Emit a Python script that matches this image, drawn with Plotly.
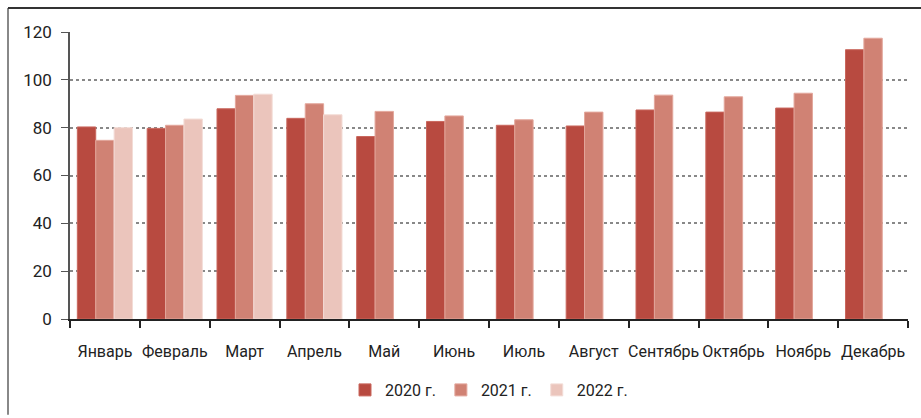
import plotly.graph_objects as go

months = ["Январь", "Февраль", "Март", "Апрель", "Май", "Июнь", "Июль",
          "Август", "Сентябрь", "Октябрь", "Ноябрь", "Декабрь"]
v2020 = [80.3, 79.7, 87.9, 83.9, 76.3, 82.6, 81.0, 80.7, 87.4, 86.5, 88.2, 112.6]
v2021 = [74.7, 81.0, 93.5, 90.0, 86.8, 84.9, 83.3, 86.5, 93.6, 92.9, 94.4, 117.4]
v2022 = [80.0, 83.6, 94.0, 85.4, None, None, None, None, None, None, None, None]
series_names = ["2020 г.", "2021 г.", "2022 г."]
colors = ["#b84a40", "#d08274", "#ebc5bc"]
edge_colors = ["#c9675d", "#e3a79c", "#f3dcd6"]
y_ticks = [0, 20, 40, 60, 80, 100, 120]

FONT = "Roboto, sans-serif"

fig = go.Figure()
for name, vals, c, ec in zip(series_names, [v2020, v2021, v2022], colors, edge_colors):
    fig.add_trace(go.Bar(x=months, y=vals, name=name,
                         marker=dict(color=c, line=dict(color=ec, width=1))))

W, H = 921, 418
ml, mr, mt, mb = 70, 13, 32, 98
pw, ph = W - ml - mr, H - mt - mb

fig.update_layout(
    width=W, height=H,
    margin=dict(l=ml, r=mr, t=mt, b=mb),
    paper_bgcolor="white", plot_bgcolor="white",
    barmode="group", bargap=0.21, bargroupgap=0,
    font=dict(family=FONT, size=15, color="#222222"),
    showlegend=True,
    legend=dict(orientation="h", x=0.5, xanchor="center", y=-(390 - 320) / ph,
                yanchor="middle",
                font=dict(family=FONT, size=16, color="#222222"),
                itemwidth=30, traceorder="normal"),
    xaxis=dict(showline=True, linecolor="#222222", linewidth=1.5,
               ticks="outside", tickson="boundaries", ticklen=7, tickcolor="#222222",
               tickwidth=1.5, showgrid=False, ticklabelstandoff=17, tickangle=0,
               tickfont=dict(family=FONT, size=16)),
    yaxis=dict(range=[0, 120], tickvals=y_ticks, showline=True, linecolor="#555555",
               linewidth=1.5, ticks="outside", ticklen=7, tickcolor="#555555",
               showgrid=True, gridcolor="#888888", griddash="dot", gridwidth=1.5,
               zeroline=False, ticklabelstandoff=6, tickfont=dict(family=FONT, size=17)),
)

# outer frame (left grey, top dark)
x_left = (8 - ml) / pw
y_top = 1 + (mt - 8) / ph
y_bot = -(mb - 2) / ph
x_right = 1 + (mr + 2) / pw
fig.add_shape(type="line", xref="paper", yref="paper", x0=x_left, x1=x_left,
              y0=y_bot, y1=y_top, line=dict(color="#888888", width=2))
fig.add_shape(type="line", xref="paper", yref="paper", x0=x_left, x1=x_right,
              y0=y_top, y1=y_top, line=dict(color="#333333", width=2))

fig.write_html("out.html", config={"displayModeBar": False})

# remove default page margin so the figure sits at the window origin
with open("out.html", "r", encoding="utf-8") as f:
    html = f.read()
html = html.replace("<head>", "<head><style>html,body{margin:0;padding:0;}</style>", 1)
with open("out.html", "w", encoding="utf-8") as f:
    f.write(html)
